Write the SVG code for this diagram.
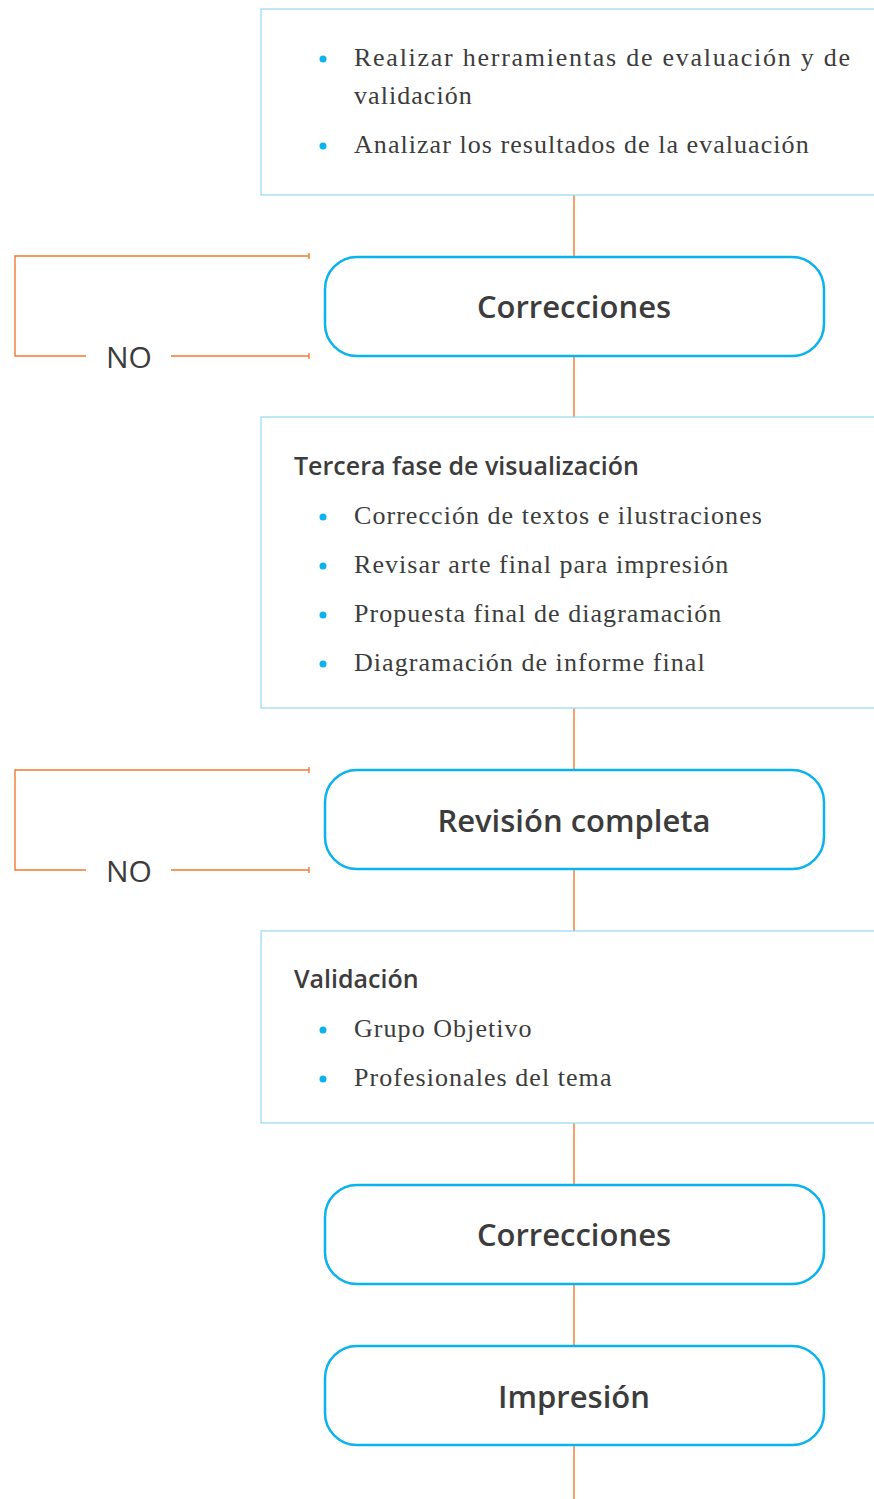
<svg xmlns="http://www.w3.org/2000/svg" width="874" height="1499" viewBox="0 0 874 1499">
<style>
.box{fill:#fff;stroke:#9fdbf4;stroke-width:1.3}
.node{fill:#fff;stroke:#0bb3ec;stroke-width:2.5}
.conn{fill:none;stroke:#f27a30;stroke-width:1.4}
.lbl{font-family:"Open Sans","Lato",sans-serif;font-size:31px;fill:#3c3c3c;text-anchor:middle;font-weight:600}
.no{font-family:"Open Sans","Lato",sans-serif;font-size:30px;fill:#3c3c3c;text-anchor:middle;font-weight:500}
.hd{font-family:"Open Sans","Lato",sans-serif;font-size:25px;fill:#3c3c3c;font-weight:600}
.it{font-family:"Liberation Serif",serif;font-size:26px;fill:#3c3c3c;letter-spacing:1.05px}
.dot{fill:#0bb3ec}
</style>
<g id="connectors">
<path class="conn" d="M574 195V257M574 356V417M574 708V770M574 869V931M574 1123V1185M574 1284V1346M574 1445V1499"/>
<path class="conn" d="M309 256H15V356H86M171 356H309M309 253V259M309 353V359"/>
<path class="conn" d="M309 770H15V870H86M171 870H309M309 767V773M309 867V873"/>
</g>
<g id="box1">
<rect class="box" x="261" y="9" width="620" height="186"/>
<circle class="dot" cx="323" cy="59" r="3.5"/>
<text class="it" x="354" y="66" textLength="497" lengthAdjust="spacing">Realizar herramientas de evaluación y de</text>
<text class="it" x="354" y="104">validación</text>
<circle class="dot" cx="323" cy="146" r="3.5"/>
<text class="it" x="354" y="153">Analizar los resultados de la evaluación</text>
</g>
<g id="correcciones1">
<rect class="node" x="325" y="257" width="499" height="99" rx="32"/>
<text class="lbl" x="574" y="318">Correcciones</text>
</g>
<text class="no" x="129" y="368">NO</text>
<g id="box2">
<rect class="box" x="261" y="417" width="620" height="291"/>
<text class="hd" x="294" y="475">Tercera fase de visualización</text>
<circle class="dot" cx="323" cy="517" r="3.5"/>
<text class="it" x="354" y="524">Corrección de textos e ilustraciones</text>
<circle class="dot" cx="323" cy="566" r="3.5"/>
<text class="it" x="354" y="573">Revisar arte final para impresión</text>
<circle class="dot" cx="323" cy="615" r="3.5"/>
<text class="it" x="354" y="622">Propuesta final de diagramación</text>
<circle class="dot" cx="323" cy="664" r="3.5"/>
<text class="it" x="354" y="671">Diagramación de informe final</text>
</g>
<g id="revision">
<rect class="node" x="325" y="770" width="499" height="99" rx="32"/>
<text class="lbl" x="574" y="832">Revisión completa</text>
</g>
<text class="no" x="129" y="882">NO</text>
<g id="box3">
<rect class="box" x="261" y="931" width="620" height="192"/>
<text class="hd" x="294" y="988">Validación</text>
<circle class="dot" cx="323" cy="1030" r="3.5"/>
<text class="it" x="354" y="1037">Grupo Objetivo</text>
<circle class="dot" cx="323" cy="1079" r="3.5"/>
<text class="it" x="354" y="1086">Profesionales del tema</text>
</g>
<g id="correcciones2">
<rect class="node" x="325" y="1185" width="499" height="99" rx="32"/>
<text class="lbl" x="574" y="1246">Correcciones</text>
</g>
<g id="impresion">
<rect class="node" x="325" y="1346" width="499" height="99" rx="32"/>
<text class="lbl" x="574" y="1408">Impresión</text>
</g>
</svg>
